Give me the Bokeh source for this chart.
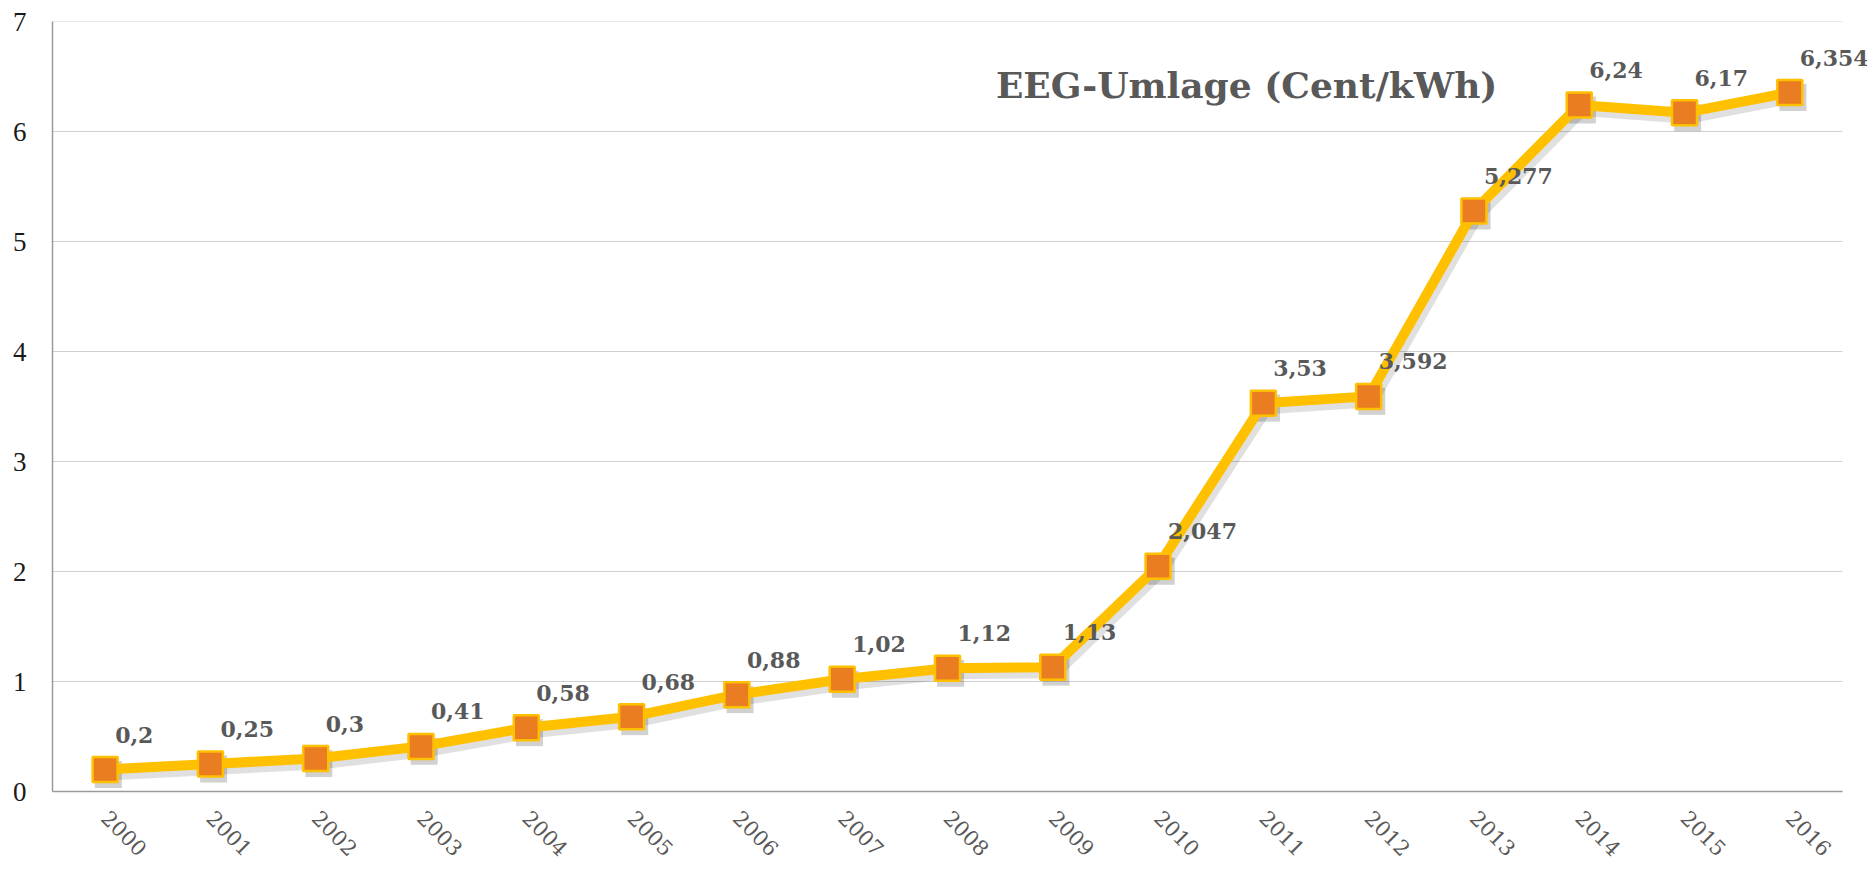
from bokeh.plotting import figure
from bokeh.models import Range1d, FixedTicker, Label, LabelSet, ColumnDataSource
from bokeh.core.properties import value
from bokeh.embed import file_html
from bokeh.resources import INLINE

years = [2000, 2001, 2002, 2003, 2004, 2005, 2006, 2007, 2008, 2009,
         2010, 2011, 2012, 2013, 2014, 2015, 2016]
umlage = [0.2, 0.25, 0.3, 0.41, 0.58, 0.68, 0.88, 1.02, 1.12, 1.13,
          2.047, 3.53, 3.592, 5.277, 6.24, 6.17, 6.354]
labels = ["0,2", "0,25", "0,3", "0,41", "0,58", "0,68", "0,88", "1,02", "1,12", "1,13",
          "2,047", "3,53", "3,592", "5,277", "6,24", "6,17", "6,354"]
y_ticks = [0, 1, 2, 3, 4, 5, 6, 7]
title_text = "EEG-Umlage (Cent/kWh)"

src = ColumnDataSource(data=dict(x=years, y=umlage, lab=labels))

# category band edges of the plotting area
x_lo = years[0] - 0.5
x_hi = years[-1] + 0.5
# extra room on the right (outside the plotting area) so the last label is not clipped
x_extra = 0.238

p = figure(width=1867, height=865, output_backend="svg", toolbar_location=None,
           x_range=Range1d(x_lo, x_hi + x_extra),
           y_range=Range1d(0, 7),
           min_border_left=52, min_border_right=0, min_border_top=21, min_border_bottom=70)
p.outline_line_color = None
p.background_fill_color = "white"

# shadow ranges (slight screen offset down-right)
p.extra_x_ranges = {"sx": Range1d(x_lo - 0.03, x_hi + x_extra - 0.03)}
p.extra_y_ranges = {"sy": Range1d(0 + 0.045, 7 + 0.045)}

# axes
p.xaxis.ticker = FixedTicker(ticks=years)
p.xaxis.bounds = (x_lo, x_hi)
p.xaxis.major_label_overrides = {yr: str(yr) for yr in years}
p.xaxis.major_label_orientation = -0.785398
p.xaxis.major_label_text_font = "DejaVu Serif"
p.xaxis.major_label_text_font_size = "21px"
p.xaxis.major_label_text_color = "#595959"
p.xaxis.major_label_standoff = 17
p.xaxis.major_tick_line_color = None
p.xaxis.minor_tick_line_color = None
p.xaxis.axis_line_color = "#9a9a9a"
p.xaxis.axis_line_width = 1.5

p.yaxis.ticker = FixedTicker(ticks=y_ticks)
p.yaxis.major_label_text_font = "Liberation Serif"
p.yaxis.major_label_text_font_size = "27px"
p.yaxis.major_label_text_color = "#1a1a1a"
p.yaxis.major_label_standoff = 20
p.yaxis.major_tick_line_color = None
p.yaxis.minor_tick_line_color = None
p.yaxis.axis_line_color = "#9a9a9a"
p.yaxis.axis_line_width = 1.5

p.xgrid.grid_line_color = None
p.ygrid.grid_line_color = None
# horizontal grid lines limited to the plotting area
p.segment(x0=[x_lo] * (len(y_ticks) - 1), x1=[x_hi] * (len(y_ticks) - 1),
          y0=y_ticks[1:], y1=y_ticks[1:], line_color="#cfcfcf", line_width=1)

# shadow
p.line("x", "y", source=src, line_color="#000000", line_alpha=0.12, line_width=12,
       x_range_name="sx", y_range_name="sy")
p.scatter("x", "y", source=src, marker="square", size=27, fill_color="#000000",
          fill_alpha=0.18, line_color=None, x_range_name="sx", y_range_name="sy")

# line + markers
p.line("x", "y", source=src, line_color="#FFC000", line_width=10, line_join="round")
p.scatter("x", "y", source=src, marker="square", size=25, fill_color="#EA7C22",
          line_color="#FFC000", line_width=2.5)

# data labels
p.add_layout(LabelSet(x="x", y="y", text="lab", source=src, x_offset=10, y_offset=27,
                      text_font=value("DejaVu Serif"), text_font_style="bold",
                      text_font_size=value("22px"), text_color="#595959",
                      text_align="left", text_baseline="alphabetic"))

# chart title inside plot
p.add_layout(Label(x=2008.46, y=6.42, text=title_text, text_font="DejaVu Serif",
                   text_font_style="bold", text_font_size="36px", text_color="#595959",
                   text_align="left", text_baseline="alphabetic"))

open("out.html", "w").write(file_html(p, INLINE))
